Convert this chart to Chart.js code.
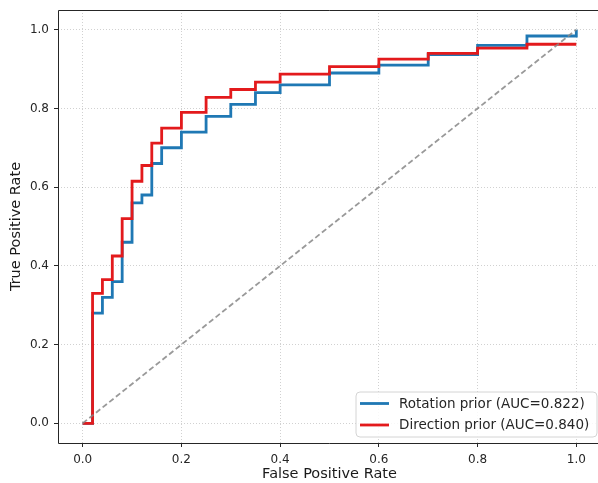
<!DOCTYPE html>
<html>
<head>
<meta charset="utf-8">
<script src="https://cdn.jsdelivr.net/npm/chart.js@4/dist/chart.umd.min.js"></script>
<style>
html,body{margin:0;padding:0;background:#fff;overflow:hidden;}
#wrap{width:602px;height:483px;}
</style>
</head>
<body>
<div id="wrap"><canvas id="c" width="602" height="483"></canvas></div>
<script>
// ROC step points (x = FPR where the level starts, y = TPR level)
const rotationFpr = [0, 0.02, 0.04, 0.06, 0.08, 0.10, 0.12, 0.14, 0.16, 0.20, 0.25, 0.30, 0.35, 0.40, 0.50, 0.60, 0.70, 0.80, 0.90, 1.00];
const rotationTpr = [0, 0.28, 0.32, 0.36, 0.46, 0.56, 0.58, 0.66, 0.70, 0.74, 0.78, 0.81, 0.84, 0.86, 0.89, 0.91, 0.937, 0.96, 0.984, 1.00];
const directionFpr = [0, 0.02, 0.04, 0.06, 0.08, 0.10, 0.12, 0.14, 0.16, 0.20, 0.25, 0.30, 0.35, 0.40, 0.50, 0.60, 0.70, 0.80, 0.90, 1.00];
const directionTpr = [0, 0.33, 0.365, 0.425, 0.52, 0.615, 0.655, 0.712, 0.75, 0.79, 0.828, 0.848, 0.867, 0.887, 0.906, 0.925, 0.94, 0.953, 0.963, 0.963];
const chanceFpr = [0, 1];
const chanceTpr = [0, 1];
const seriesLabels = ['Rotation prior (AUC=0.822)', 'Direction prior (AUC=0.840)'];
const xTickValues = [0, 0.2, 0.4, 0.6, 0.8, 1.0];
const yTickValues = [0, 0.2, 0.4, 0.6, 0.8, 1.0];
const xTitle = 'False Positive Rate';
const yTitle = 'True Positive Rate';

const BLUE = '#1f78b4';
const RED = '#e31a1c';
const FONT = "'DejaVu Sans', sans-serif";

function pts(xs, ys){ return xs.map((x,i)=>({x:x, y:ys[i]})); }

const framePlugin = {
  id: 'frame',
  afterDatasetsDraw(chart){
    const {ctx, chartArea:a} = chart;
    ctx.save();
    ctx.strokeStyle = '#262626';
    ctx.lineWidth = 1;
    ctx.beginPath();
    ctx.moveTo(a.right, a.top + 0.5);
    ctx.lineTo(a.left + 0.5, a.top + 0.5);
    ctx.lineTo(a.left + 0.5, a.bottom + 0.5);
    ctx.lineTo(a.right, a.bottom + 0.5);
    ctx.moveTo(a.right - 0.5, a.top);
    ctx.lineTo(a.right - 0.5, a.bottom);
    ctx.stroke();
    ctx.restore();
  }
};

const legendPlugin = {
  id: 'insideLegend',
  afterDraw(chart){
    const {ctx, chartArea:a} = chart;
    const w = 241, h = 45;
    const x = a.right - 245, y = a.bottom - 51;
    ctx.save();
    const r = 4;
    ctx.beginPath();
    ctx.moveTo(x + r, y);
    ctx.lineTo(x + w - r, y); ctx.arcTo(x + w, y, x + w, y + r, r);
    ctx.lineTo(x + w, y + h - r); ctx.arcTo(x + w, y + h, x + w - r, y + h, r);
    ctx.lineTo(x + r, y + h); ctx.arcTo(x, y + h, x, y + h - r, r);
    ctx.lineTo(x, y + r); ctx.arcTo(x, y, x + r, y, r);
    ctx.closePath();
    ctx.fillStyle = 'rgba(255,255,255,0.85)';
    ctx.fill();
    ctx.strokeStyle = '#d4d4d4';
    ctx.lineWidth = 1;
    ctx.stroke();
    const colors = [BLUE, RED];
    const rows = [y + 11.5, y + 33];
    ctx.font = '13.5px ' + FONT;
    ctx.textBaseline = 'middle';
    ctx.textAlign = 'left';
    for (let i = 0; i < 2; i++) {
      ctx.strokeStyle = colors[i];
      ctx.lineWidth = 2.8;
      ctx.beginPath();
      ctx.moveTo(x + 4, rows[i]);
      ctx.lineTo(x + 33, rows[i]);
      ctx.stroke();
      ctx.fillStyle = '#262626';
      ctx.fillText(seriesLabels[i], x + 43, rows[i] + 0.5);
    }
    ctx.restore();
  }
};

new Chart(document.getElementById('c'), {
  type: 'line',
  data: {
    datasets: [
      {
        label: 'chance',
        data: pts(chanceFpr, chanceTpr),
        borderColor: 'rgba(135,135,135,0.85)',
        borderWidth: 1.8,
        borderDash: [5.5, 3],
        pointRadius: 0,
        fill: false,
        order: 0
      },
      {
        label: seriesLabels[1],
        data: pts(directionFpr, directionTpr),
        borderColor: RED,
        borderWidth: 2.8,
        stepped: 'before',
        pointRadius: 0,
        fill: false,
        order: 1
      },
      {
        label: seriesLabels[0],
        data: pts(rotationFpr, rotationTpr),
        borderColor: BLUE,
        borderWidth: 2.8,
        stepped: 'before',
        pointRadius: 0,
        fill: false,
        order: 2
      }
    ]
  },
  options: {
    responsive: false,
    animation: false,
    devicePixelRatio: 1,
    layout: { padding: { top: 10, right: 1, left: 0, bottom: 0 } },
    plugins: { legend: { display: false }, tooltip: { enabled: false } },
    scales: {
      x: {
        type: 'linear',
        min: -0.05, max: 1.05,
        afterBuildTicks(s){ s.ticks = xTickValues.map(v => ({value: v})); },
        afterFit(s){ s.height = 40; s.paddingLeft = 0; s.paddingRight = 0; },
        grid: {
          color: 'rgba(0,0,0,0.18)', lineWidth: 1,
          drawTicks: true, tickLength: 4, tickColor: '#262626', tickWidth: 1, tickBorderDash: []
        },
        border: { display: false, dash: [1, 2] },
        ticks: {
          color: '#262626', font: { family: FONT, size: 12 }, padding: 6,
          maxRotation: 0,
          callback: v => v.toFixed(1)
        },
        title: {
          display: true, text: xTitle, color: '#1a1a1a',
          font: { family: FONT, size: 14.5 }, padding: { top: 0, bottom: 0 }
        }
      },
      y: {
        type: 'linear',
        min: -0.05, max: 1.05,
        afterBuildTicks(s){ s.ticks = yTickValues.map(v => ({value: v})); },
        afterFit(s){ s.width = 58; s.paddingTop = 0; s.paddingBottom = 0; },
        grid: {
          color: 'rgba(0,0,0,0.18)', lineWidth: 1,
          drawTicks: true, tickLength: 4, tickColor: '#262626', tickWidth: 1, tickBorderDash: []
        },
        border: { display: false, dash: [1, 2] },
        ticks: {
          color: '#262626', font: { family: FONT, size: 12 }, padding: 5,
          callback: v => v.toFixed(1)
        },
        title: {
          display: true, text: yTitle, color: '#1a1a1a',
          font: { family: FONT, size: 14.5 }, padding: { top: 8, bottom: 0 }
        }
      }
    }
  },
  plugins: [framePlugin, legendPlugin]
});
</script>
</body>
</html>
